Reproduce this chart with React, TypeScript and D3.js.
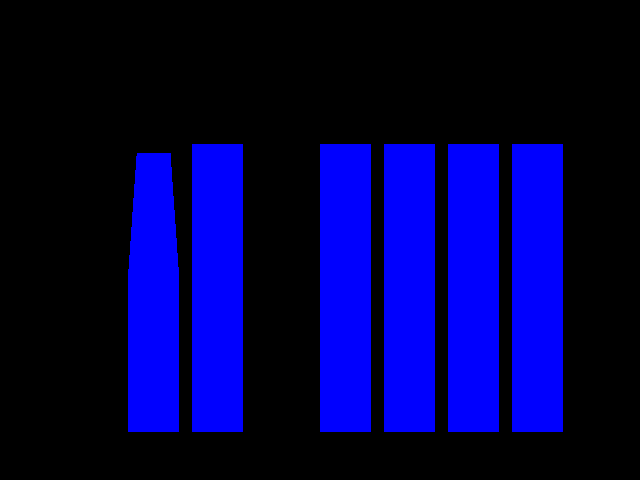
import { useEffect, useRef } from 'react';
import * as d3 from 'd3';

const categories = ['A', 'B', 'C', 'D', 'E', 'F', 'G'];
const values: (number | null)[] = [0.54, 1, null, 1, 1, 1, 1];
// tapered cap on top of the first bar
const capTop = 0.97;
const capTopWidthRatio = 0.66;

const App = () => {
  const ref = useRef<SVGSVGElement | null>(null);

  useEffect(() => {
    if (!ref.current) return;
    const svg = d3.select(ref.current);
    svg.selectAll('*').remove();

    const width = 640;
    const height = 480;
    const margin = { left: 128, top: 144, bottom: 48 };
    const innerHeight = height - margin.top - margin.bottom;

    const x = d3
      .scaleBand()
      .domain(categories)
      .range([0, 448])
      .paddingInner(0.2)
      .paddingOuter(0.1)
      .align(0);

    const y = d3.scaleLinear().domain([0, 1]).range([innerHeight, 0]);

    svg.append('rect').attr('width', width).attr('height', height).attr('fill', '#000');

    const g = svg
      .append('g')
      .attr('transform', `translate(${margin.left}, ${margin.top})`)
      .attr('shape-rendering', 'crispEdges');

    categories.forEach((c, i) => {
      const v = values[i];
      if (v == null) return;
      g.append('rect')
        .attr('x', x(c) || 0)
        .attr('y', y(v))
        .attr('width', x.bandwidth())
        .attr('height', innerHeight - y(v))
        .attr('fill', '#0000ff');
    });

    // taper above first bar
    const x0 = x(categories[0]) || 0;
    const bw = x.bandwidth();
    const inset = (bw * (1 - capTopWidthRatio)) / 2;
    const pts: [number, number][] = [
      [x0, y(values[0] || 0)],
      [x0 + inset, y(capTop)],
      [x0 + bw - inset, y(capTop)],
      [x0 + bw, y(values[0] || 0)]
    ];
    g.append('path')
      .attr('d', d3.line()(pts) + 'Z')
      .attr('fill', '#0000ff');
  }, []);

  return (
    <div style={{ position: 'fixed', left: 0, top: 0 }}>
      <svg ref={ref} width={640} height={480} style={{ display: 'block' }} />
    </div>
  );
};

export default App;
